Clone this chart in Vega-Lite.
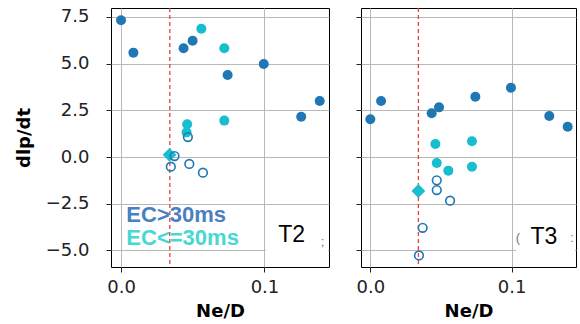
{
  "$schema": "https://vega.github.io/schema/vega-lite/v6.json",
  "padding": {"left": 14, "top": 6, "right": 5, "bottom": 5},
  "background": "white",
  "config": {
    "view": {"stroke": "black", "strokeWidth": 1},
    "font": "DejaVu Sans",
    "axis": {"grid": true, "gridColor": "#b8b8b8", "gridWidth": 1, "domain": false, "tickColor": "#222", "tickSize": 5, "labelFont": "DejaVu Sans", "labelFontSize": 18, "labelColor": "#222", "titleFont": "DejaVu Sans", "titleFontSize": 18, "titleFontWeight": "bold", "titleColor": "#000"},
    "concat": {"spacing": 25}
  },
  "datasets": {
    "pts": [
      {"p": "T2", "k": "hi", "x": 0.0, "y": 7.32},
      {"p": "T2", "k": "hi", "x": 0.0086, "y": 5.59},
      {"p": "T2", "k": "hi", "x": 0.0436, "y": 5.82},
      {"p": "T2", "k": "hi", "x": 0.0499, "y": 6.23},
      {"p": "T2", "k": "hi", "x": 0.0743, "y": 4.39},
      {"p": "T2", "k": "hi", "x": 0.0995, "y": 4.98},
      {"p": "T2", "k": "hi", "x": 0.1256, "y": 2.16},
      {"p": "T2", "k": "hi", "x": 0.1385, "y": 3.0},
      {"p": "T2", "k": "lo", "x": 0.056, "y": 6.87},
      {"p": "T2", "k": "lo", "x": 0.072, "y": 5.82},
      {"p": "T2", "k": "lo", "x": 0.0461, "y": 1.75},
      {"p": "T2", "k": "lo", "x": 0.0457, "y": 1.32},
      {"p": "T2", "k": "lo", "x": 0.072, "y": 1.95},
      {"p": "T2", "k": "dia", "x": 0.0338, "y": 0.12},
      {"p": "T2", "k": "open", "x": 0.0466, "y": 1.07},
      {"p": "T2", "k": "open", "x": 0.0373, "y": 0.05},
      {"p": "T2", "k": "open", "x": 0.0347, "y": -0.52},
      {"p": "T2", "k": "open", "x": 0.0476, "y": -0.37},
      {"p": "T2", "k": "open", "x": 0.0571, "y": -0.84},
      {"p": "T3", "k": "hi", "x": 0.0, "y": 2.02},
      {"p": "T3", "k": "hi", "x": 0.0076, "y": 3.0},
      {"p": "T3", "k": "hi", "x": 0.0434, "y": 2.34},
      {"p": "T3", "k": "hi", "x": 0.0486, "y": 2.66},
      {"p": "T3", "k": "hi", "x": 0.0743, "y": 3.23},
      {"p": "T3", "k": "hi", "x": 0.0995, "y": 3.71},
      {"p": "T3", "k": "hi", "x": 0.1266, "y": 2.2},
      {"p": "T3", "k": "hi", "x": 0.1396, "y": 1.62},
      {"p": "T3", "k": "lo", "x": 0.046, "y": 0.7},
      {"p": "T3", "k": "lo", "x": 0.0719, "y": 0.84},
      {"p": "T3", "k": "lo", "x": 0.047, "y": -0.32},
      {"p": "T3", "k": "lo", "x": 0.0552, "y": -0.73},
      {"p": "T3", "k": "lo", "x": 0.0719, "y": -0.52},
      {"p": "T3", "k": "dia", "x": 0.034, "y": -1.82},
      {"p": "T3", "k": "open", "x": 0.047, "y": -1.25},
      {"p": "T3", "k": "open", "x": 0.047, "y": -1.77},
      {"p": "T3", "k": "open", "x": 0.0564, "y": -2.34},
      {"p": "T3", "k": "open", "x": 0.037, "y": -3.79},
      {"p": "T3", "k": "open", "x": 0.0344, "y": -5.27}
    ],
    "vline": [{"x": 0.034}],
    "box": [
      {"p": "T2", "x": 0.1009, "x2": 0.1443, "y": -2.95, "y2": -5.85},
      {"p": "T3", "x": 0.103, "x2": 0.1448, "y": -2.95, "y2": -5.85}
    ],
    "ann": [
      {"p": "T2", "g": "hi", "x": 0.0037, "y": -3.1, "t": "EC>30ms"},
      {"p": "T2", "g": "lo", "x": 0.0037, "y": -4.34, "t": "EC<=30ms"},
      {"p": "T2", "g": "tag", "x": 0.119, "y": -4.18, "t": "T2"},
      {"p": "T3", "g": "tag", "x": 0.1228, "y": -4.28, "t": "T3"},
      {"p": "T2", "g": "frag", "x": 0.1405, "y": -4.55, "t": ";"},
      {"p": "T3", "g": "frag", "x": 0.1045, "y": -4.34, "t": "("},
      {"p": "T3", "g": "frag", "x": 0.1425, "y": -4.34, "t": ":"}
    ]
  },
  "hconcat": [
    {
      "width": 218, "height": 259,
      "layer": [
        {"data": {"name": "vline"}, "mark": {"type": "rule", "color": "#e8413c", "strokeDash": [4, 3], "strokeWidth": 1.3},
         "encoding": {"x": {"field": "x", "type": "quantitative", "scale": {"domain": [-0.007, 0.145], "nice": false, "zero": false}, "axis": {"values": [0, 0.1], "format": ".1f", "title": "Ne/D", "labelPadding": 6, "titlePadding": 6}}}},
        {"data": {"name": "box"}, "transform": [{"filter": "datum.p == 'T2'"}], "mark": {"type": "rect", "fill": "white"},
         "encoding": {"x": {"field": "x", "type": "quantitative"}, "x2": {"field": "x2"}, "y": {"field": "y", "type": "quantitative", "scale": {"domain": [-5.89, 7.98], "nice": false, "zero": false}, "axis": {"values": [-5, -2.5, 0, 2.5, 5, 7.5], "format": ".1f", "title": "dlp/dt", "labelPadding": 17, "titlePadding": 12}}, "y2": {"field": "y2"}}},
        {"data": {"name": "pts"}, "transform": [{"filter": "datum.p == 'T2' && datum.k == 'hi'"}], "mark": {"type": "point", "filled": true, "opacity": 1, "size": 100, "color": "#1f77b4"},
         "encoding": {"x": {"field": "x", "type": "quantitative"}, "y": {"field": "y", "type": "quantitative"}}},
        {"data": {"name": "pts"}, "transform": [{"filter": "datum.p == 'T2' && datum.k == 'lo'"}], "mark": {"type": "point", "filled": true, "opacity": 1, "size": 100, "color": "#17becf"},
         "encoding": {"x": {"field": "x", "type": "quantitative"}, "y": {"field": "y", "type": "quantitative"}}},
        {"data": {"name": "pts"}, "transform": [{"filter": "datum.p == 'T2' && datum.k == 'dia'"}], "mark": {"type": "point", "shape": "diamond", "filled": true, "opacity": 1, "size": 190, "color": "#17becf"},
         "encoding": {"x": {"field": "x", "type": "quantitative"}, "y": {"field": "y", "type": "quantitative"}}},
        {"data": {"name": "pts"}, "transform": [{"filter": "datum.p == 'T2' && datum.k == 'open'"}], "mark": {"type": "point", "filled": false, "opacity": 1, "size": 75, "strokeWidth": 1.6, "color": "#1f77b4"},
         "encoding": {"x": {"field": "x", "type": "quantitative"}, "y": {"field": "y", "type": "quantitative"}}},
        {"data": {"name": "ann"}, "transform": [{"filter": "datum.p == 'T2' && datum.g == 'hi'"}], "mark": {"type": "text", "align": "left", "baseline": "middle", "font": "Liberation Sans", "fontWeight": "bold", "fontSize": 22, "color": "#4a7fc1"},
         "encoding": {"x": {"field": "x", "type": "quantitative"}, "y": {"field": "y", "type": "quantitative"}, "text": {"field": "t"}}},
        {"data": {"name": "ann"}, "transform": [{"filter": "datum.p == 'T2' && datum.g == 'lo'"}], "mark": {"type": "text", "align": "left", "baseline": "middle", "font": "Liberation Sans", "fontWeight": "bold", "fontSize": 22, "color": "#48d8d2"},
         "encoding": {"x": {"field": "x", "type": "quantitative"}, "y": {"field": "y", "type": "quantitative"}, "text": {"field": "t"}}},
        {"data": {"name": "ann"}, "transform": [{"filter": "datum.p == 'T2' && datum.g == 'tag'"}], "mark": {"type": "text", "align": "center", "baseline": "middle", "font": "Liberation Sans", "fontSize": 23, "color": "black"},
         "encoding": {"x": {"field": "x", "type": "quantitative"}, "y": {"field": "y", "type": "quantitative"}, "text": {"field": "t"}}},
        {"data": {"name": "ann"}, "transform": [{"filter": "datum.p == 'T2' && datum.g == 'frag'"}], "mark": {"type": "text", "align": "center", "baseline": "middle", "font": "Liberation Sans", "fontSize": 13, "color": "#777"},
         "encoding": {"x": {"field": "x", "type": "quantitative"}, "y": {"field": "y", "type": "quantitative"}, "text": {"field": "t"}}}
      ]
    },
    {
      "width": 215, "height": 259,
      "layer": [
        {"data": {"name": "vline"}, "mark": {"type": "rule", "color": "#e8413c", "strokeDash": [4, 3], "strokeWidth": 1.3},
         "encoding": {"x": {"field": "x", "type": "quantitative", "scale": {"domain": [-0.0066, 0.1455], "nice": false, "zero": false}, "axis": {"values": [0, 0.1], "format": ".1f", "title": "Ne/D", "labelPadding": 6, "titlePadding": 6}}}},
        {"data": {"name": "box"}, "transform": [{"filter": "datum.p == 'T3'"}], "mark": {"type": "rect", "fill": "white"},
         "encoding": {"x": {"field": "x", "type": "quantitative"}, "x2": {"field": "x2"}, "y": {"field": "y", "type": "quantitative", "scale": {"domain": [-5.89, 7.98], "nice": false, "zero": false}, "axis": {"values": [-5, -2.5, 0, 2.5, 5, 7.5], "labels": false, "title": null}}, "y2": {"field": "y2"}}},
        {"data": {"name": "pts"}, "transform": [{"filter": "datum.p == 'T3' && datum.k == 'hi'"}], "mark": {"type": "point", "filled": true, "opacity": 1, "size": 100, "color": "#1f77b4"},
         "encoding": {"x": {"field": "x", "type": "quantitative"}, "y": {"field": "y", "type": "quantitative"}}},
        {"data": {"name": "pts"}, "transform": [{"filter": "datum.p == 'T3' && datum.k == 'lo'"}], "mark": {"type": "point", "filled": true, "opacity": 1, "size": 100, "color": "#17becf"},
         "encoding": {"x": {"field": "x", "type": "quantitative"}, "y": {"field": "y", "type": "quantitative"}}},
        {"data": {"name": "pts"}, "transform": [{"filter": "datum.p == 'T3' && datum.k == 'dia'"}], "mark": {"type": "point", "shape": "diamond", "filled": true, "opacity": 1, "size": 190, "color": "#17becf"},
         "encoding": {"x": {"field": "x", "type": "quantitative"}, "y": {"field": "y", "type": "quantitative"}}},
        {"data": {"name": "pts"}, "transform": [{"filter": "datum.p == 'T3' && datum.k == 'open'"}], "mark": {"type": "point", "filled": false, "opacity": 1, "size": 75, "strokeWidth": 1.6, "color": "#1f77b4"},
         "encoding": {"x": {"field": "x", "type": "quantitative"}, "y": {"field": "y", "type": "quantitative"}}},
        {"data": {"name": "ann"}, "transform": [{"filter": "datum.p == 'T3' && datum.g == 'tag'"}], "mark": {"type": "text", "align": "center", "baseline": "middle", "font": "Liberation Sans", "fontSize": 23, "color": "black"},
         "encoding": {"x": {"field": "x", "type": "quantitative"}, "y": {"field": "y", "type": "quantitative"}, "text": {"field": "t"}}},
        {"data": {"name": "ann"}, "transform": [{"filter": "datum.p == 'T3' && datum.g == 'frag'"}], "mark": {"type": "text", "align": "center", "baseline": "middle", "font": "Liberation Sans", "fontSize": 13, "color": "#777"},
         "encoding": {"x": {"field": "x", "type": "quantitative"}, "y": {"field": "y", "type": "quantitative"}, "text": {"field": "t"}}}
      ]
    }
  ]
}
